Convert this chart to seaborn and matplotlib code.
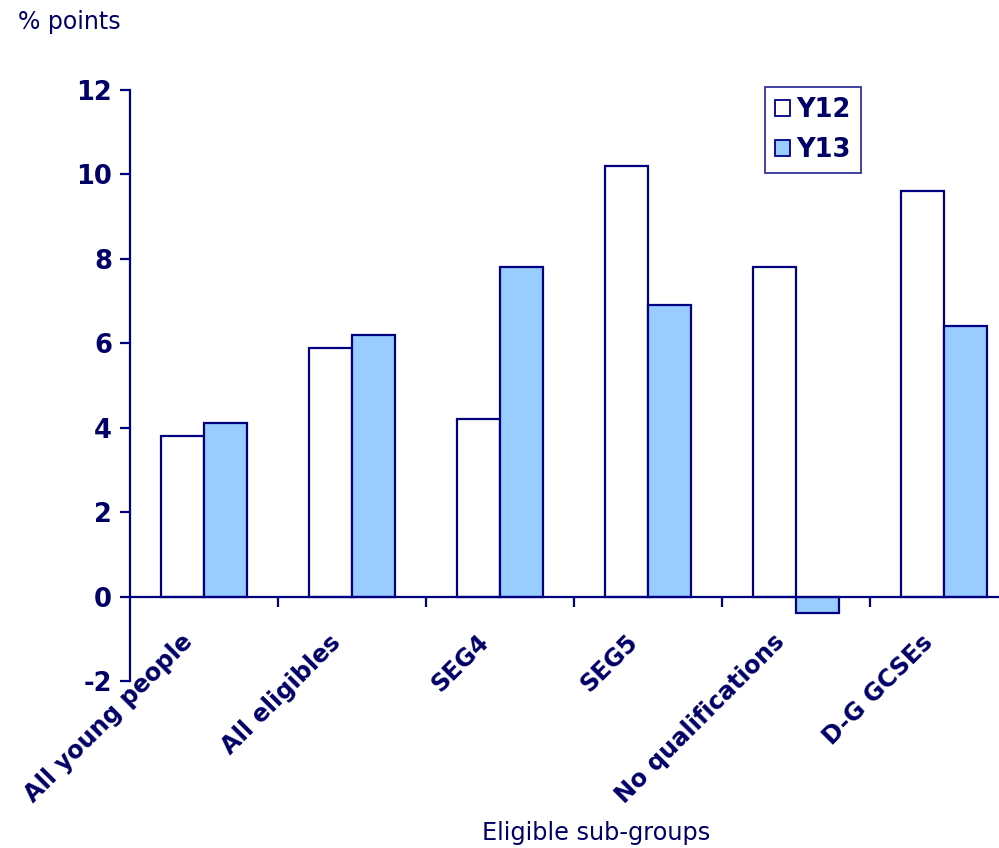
import matplotlib
matplotlib.use("Agg")
import matplotlib.pyplot as plt
import matplotlib.transforms as mtransforms
import seaborn as sns
import pandas as pd
import numpy as np

categories = ["All young people", "All eligibles", "SEG4", "SEG5", "No qualifications", "D-G GCSEs"]
y12 = [3.8, 5.9, 4.2, 10.2, 7.8, 9.6]
y13 = [4.1, 6.2, 7.8, 6.9, -0.4, 6.4]
series = ["Y12", "Y13"]
yticks = [-2, 0, 2, 4, 6, 8, 10, 12]

NAVY = "#000080"
TEXT = "#000066"

df = pd.DataFrame({
    "Group": categories * 2,
    "Year": ["Y12"] * len(categories) + ["Y13"] * len(categories),
    "Value": y12 + y13,
})

sns.set_theme(style="white")
plt.rcParams["font.family"] = ["DejaVu Sans"]

fig = plt.figure(figsize=(9.99, 8.48), dpi=100)
ax = fig.add_axes([130/999, 1 - 681/848, 888/999, (681 - 90)/848])

sns.barplot(data=df, x="Group", y="Value", hue="Year", order=categories,
            hue_order=series, palette={"Y12": "white", "Y13": "#99CCFF"},
            saturation=1, width=0.58, edgecolor=NAVY, linewidth=1.6, ax=ax)

ax.set_ylim(-2, 12)
ax.set_xlim(-0.5, len(categories) - 0.5)
ax.set_yticks(yticks)
ax.set_yticklabels([str(v) for v in yticks], fontsize=18.5, fontweight="bold", color=TEXT)

for s in ["top", "right"]:
    ax.spines[s].set_visible(False)
ax.spines["left"].set_color(NAVY)
ax.spines["left"].set_linewidth(1.6)
ax.spines["bottom"].set_color(NAVY)
ax.spines["bottom"].set_linewidth(1.6)
ax.spines["bottom"].set_position(("data", 0))

ax.tick_params(axis="y", direction="out", length=7, width=1.6, color=NAVY, left=True, pad=6)
ax.set_xticks(range(len(categories)))
ax.set_xticks(np.arange(len(categories)) + 0.5, minor=True)
ax.tick_params(axis="x", which="major", length=0, pad=14)
ax.tick_params(axis="x", which="minor", direction="out", length=7, width=1.6, color=NAVY, bottom=True)
ax.set_xticklabels(categories, rotation=45, ha="right", rotation_mode="anchor",
                   fontsize=17.3, fontweight="bold", color=TEXT)
offset = mtransforms.ScaledTranslation(-0.23, -0.14, fig.dpi_scale_trans)
for lab in ax.get_xticklabels():
    lab.set_transform(lab.get_transform() + offset)

ax.set_xlabel("")
ax.set_ylabel("")
ax.grid(False)

leg = ax.legend(loc="upper left", bbox_to_anchor=((765 - 130)/888, 1.0 + 3/591), bbox_transform=ax.transAxes,
                frameon=True, fancybox=False, fontsize=18.5, handlelength=0.6, handleheight=0.6,
                handletextpad=0.25, borderpad=0.38, labelspacing=0.55, borderaxespad=0)
leg.get_frame().set_edgecolor(NAVY)
leg.get_frame().set_linewidth(1.3)
for t in leg.get_texts():
    t.set_color(TEXT)
    t.set_fontweight("bold")
for h in leg.legend_handles:
    h.set_edgecolor(NAVY)
    h.set_linewidth(1.3)

fig.text(18/999, 1 - 22/848, "% points", fontsize=17, color=TEXT, ha="left", va="center")
fig.text(596/999, 1 - 833/848, "Eligible sub-groups", fontsize=17.3, color=TEXT, ha="center", va="center")

fig.savefig("out.png", dpi=100, facecolor="white")
